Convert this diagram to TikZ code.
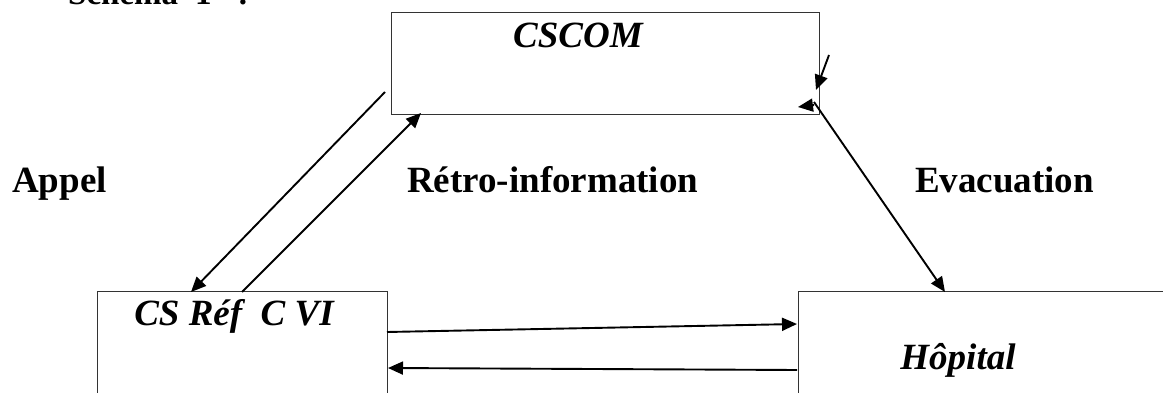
\documentclass[tikz,border=0pt]{standalone}
\usepackage{fontspec}
\setmainfont{Liberation Serif}
\usetikzlibrary{arrows.meta}
\begin{document}
\begin{tikzpicture}[x=1pt,y=-1pt,
  box/.style={draw=black!80, line width=1.1pt, inner sep=0pt, anchor=north west},
  lbl/.style={font=\fontsize{37}{40}\selectfont\bfseries, anchor=base west, inner sep=0pt},
  title/.style={font=\fontsize{33}{36}\selectfont\bfseries, anchor=base west, inner sep=0pt},
  place/.style={font=\fontsize{37}{40}\selectfont\bfseries\itshape, anchor=base, inner sep=0pt},
  arr/.style={draw=black, line width=1.9pt, -{Triangle[length=15pt,width=13pt]}}]
\useasboundingbox (0,0) rectangle (1163,393);
\clip (0,0) rectangle (1163,393);

% heading
\node[title] (heading) at (68,5) {Schéma\hspace{17pt}1\hspace{26pt}:};

% the three facilities
\node[box, minimum width=428pt, minimum height=102pt] (cscom) at (391,12) {};
\node[box, minimum width=290pt, minimum height=130pt] (csref) at (97,291) {};
\node[box, minimum width=420pt, minimum height=130pt] (hopital) at (798,291) {};

\node[place] (cscomtxt) at (578,48) {CSCOM};
\node[place] (csreftxt) at (234,325) {CS Réf\ \ C VI};
\node[place] (hopitaltxt) at (958,369) {Hôpital};

% flow labels
\node[lbl] (appel) at (12,193) {Appel};
\node[lbl] (retro) at (407,193) {Rétro-information};
\node[lbl] (evac) at (915,193) {Evacuation};

% connector end points
\coordinate (appelA) at (385,92);
\coordinate (appelB) at (191,292);
\coordinate (retroA) at (242,292);
\coordinate (retroB) at (421,113);
\coordinate (evacA) at (814,102);
\coordinate (evacB) at (945,292);
\coordinate (inA) at (829,55);
\coordinate (inB) at (816,90);
\coordinate (backA) at (814,105);
\coordinate (backB) at (798,107);
\coordinate (refA) at (387,332);
\coordinate (refB) at (797,324);
\coordinate (retA) at (797,370);
\coordinate (retB) at (388,368);

\draw[arr] (appelA) -- (appelB);
\draw[arr] (retroA) -- (retroB);
\draw[arr] (evacA) -- (evacB);
\draw[arr] (inA) -- (inB);
\draw[arr] (backA) -- (backB);
\draw[arr] (refA) -- (refB);
\draw[arr] (retA) -- (retB);
\end{tikzpicture}
\end{document}
